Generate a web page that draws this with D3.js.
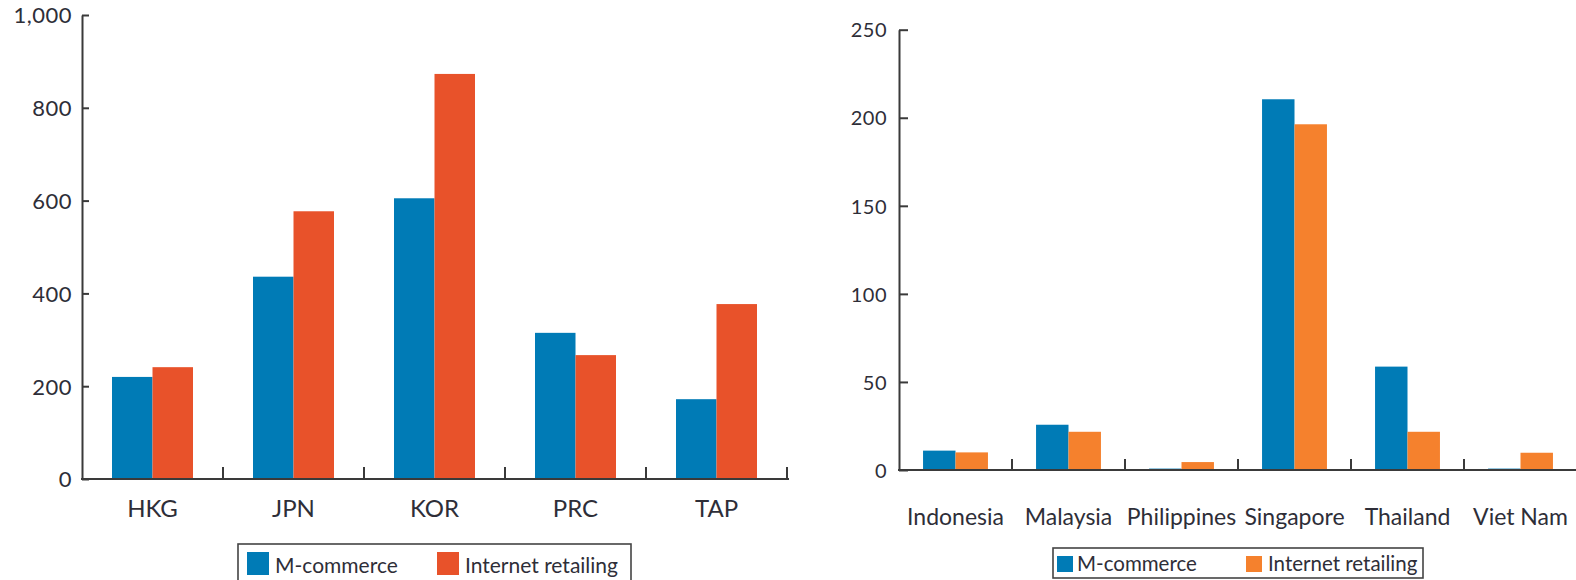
<!DOCTYPE html>
<html><head><meta charset="utf-8">
<script src="https://cdn.jsdelivr.net/npm/d3@7"></script>
<style>body{margin:0;background:#fff}svg{display:block}text{font-family:Lato,"Open Sans",sans-serif;fill:#2e2e38}</style>
</head><body>
<svg id="c" width="1576" height="580"></svg>
<script>
// Left panel: East Asia
const leftCategories = ["HKG","JPN","KOR","PRC","TAP"];
const leftMcommerce = [220, 436, 605, 315, 172];
const leftInternet = [241, 577, 873, 267, 377];
const leftTicks = [0, 200, 400, 600, 800, 1000];
// Right panel: Southeast Asia
const rightCategories = ["Indonesia","Malaysia","Philippines","Singapore","Thailand","Viet Nam"];
const rightMcommerce = [11, 25.7, 0.8, 210.5, 58.7, 0.8];
const rightInternet = [10, 21.7, 4.5, 196.3, 21.7, 9.8];
const rightTicks = [0, 50, 100, 150, 200, 250];
const seriesNames = ["M-commerce","Internet retailing"];

const svg = d3.select("#c");
const AX = "#3a3a3a";

function panel(o){
  const g = svg.append("g");
  const x0 = d3.scaleBand().domain(o.cats).range([o.x0, o.x1]).padding(0);
  const x1 = d3.scaleBand().domain(seriesNames)
      .range([x0.bandwidth()*0.2128, x0.bandwidth()*0.7872]).padding(0);
  const y = d3.scaleLinear().domain([0, o.max]).range([o.y0, o.y1]);
  const colors = {"M-commerce": o.c1, "Internet retailing": o.c2};
  const data = o.cats.map((c,i)=>({cat:c, vals:[{s:seriesNames[0],v:o.a[i]},{s:seriesNames[1],v:o.b[i]}]}));
  // bars
  g.selectAll("g.grp").data(data).join("g").attr("class","grp")
   .attr("transform", d=>`translate(${x0(d.cat)},0)`)
   .selectAll("rect").data(d=>d.vals).join("rect")
   .attr("x", d=>x1(d.s)).attr("width", x1.bandwidth())
   .attr("y", d=>y(d.v)).attr("height", d=>y(0)-y(d.v))
   .attr("fill", d=>colors[d.s]);
  // y axis
  const ya = g.append("g").attr("transform",`translate(${o.x0},0)`)
    .call(d3.axisLeft(y).tickValues(o.ticks).tickSize(-o.tk).tickSizeOuter(0)
      .tickPadding(o.tp).tickFormat(d3.format(",")));
  ya.select(".domain").attr("stroke",AX).attr("stroke-width",2);
  ya.selectAll(".tick line").attr("stroke",AX).attr("stroke-width",2);
  ya.selectAll(".tick text").attr("font-size",o.yfs).attr("fill","#2e2e38")
    .style("font-family","Lato,sans-serif").style("letter-spacing","0.5px").attr("dy","0.36em");
  // x axis
  const xa = g.append("g").attr("transform",`translate(0,${o.y0})`)
    .call(d3.axisBottom(x0).tickSize(0).tickSizeOuter(0).tickPadding(o.lp));
  xa.select(".domain").attr("stroke",AX).attr("stroke-width",2).attr("d",`M${o.x0-1},0H${o.xend}`);
  xa.selectAll(".tick text").attr("font-size",o.xfs).attr("fill","#2e2e38")
    .style("font-family","Lato,sans-serif").attr("dy","0").attr("y",o.lp);
  // boundary ticks
  g.selectAll("line.bt").data(o.cats).join("line").attr("class","bt")
   .attr("x1", d=>x0(d)+x0.bandwidth()).attr("x2", d=>x0(d)+x0.bandwidth())
   .attr("y1", o.y0).attr("y2", o.y0-o.xt).attr("stroke",AX).attr("stroke-width",2);
  // legend
  const L = o.leg;
  const lg = svg.append("g");
  lg.append("rect").attr("x",L.bx).attr("y",L.by).attr("width",L.bw).attr("height",L.bh)
    .attr("fill","none").attr("stroke","#444").attr("stroke-width",1.6);
  seriesNames.forEach((s,i)=>{
    lg.append("rect").attr("x",L.sx[i]).attr("y",L.sy).attr("width",L.sw).attr("height",L.sh).attr("fill",colors[s]);
    lg.append("text").attr("x",L.tx[i]).attr("y",L.ty).attr("font-size",L.fs).text(s);
  });
}

panel({cats:leftCategories,a:leftMcommerce,b:leftInternet,ticks:leftTicks,max:1000,
  x0:82,x1:787,xend:789,y0:479,y1:15,tk:7,tp:10,yfs:22,xfs:24,lp:38,xt:12,
  c1:"#007bb6",c2:"#e8522a",
  leg:{bx:238,by:544,bw:393,bh:40,sx:[247,437],sy:552,sw:22,sh:23,tx:[275,465],ty:573,fs:21}});

panel({cats:rightCategories,a:rightMcommerce,b:rightInternet,ticks:rightTicks,max:250,
  x0:899,x1:1577,xend:1580,y0:470,y1:29.7,tk:9,tp:12,yfs:20,xfs:23,lp:55,xt:11,
  c1:"#007bb6",c2:"#f5812d",
  leg:{bx:1053,by:548,bw:370,bh:30,sx:[1057,1246],sy:556,sw:16,sh:16,tx:[1077,1268],ty:571,fs:20.5}});
</script>
</body></html>
